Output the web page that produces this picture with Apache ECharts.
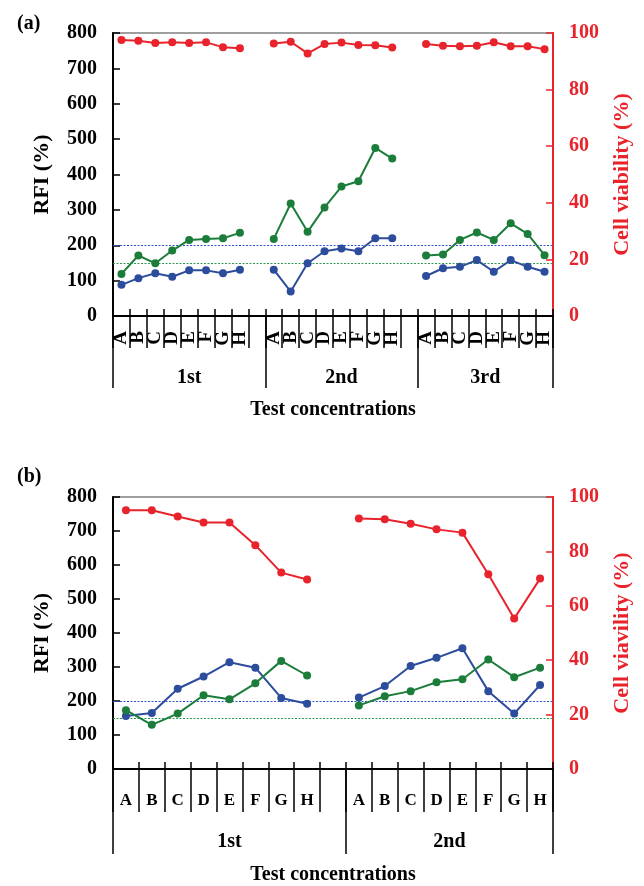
<!DOCTYPE html>
<html>
<head>
<meta charset="utf-8">
<script src="https://cdn.jsdelivr.net/npm/echarts@6/dist/echarts.min.js"></script>
<style>
html,body{margin:0;padding:0;background:#fff;}
#chart{width:644px;height:886px;}
</style>
</head>
<body>
<div id="chart"></div>
<script>
// ---------- DATA ----------
const letters = ['A','B','C','D','E','F','G','H'];
const categoriesA = [...letters, '', ...letters, '', ...letters];
const categoriesB = [...letters, '', ...letters];
const groupsA = ['1st','2nd','3rd'];
const groupsB = ['1st','2nd'];

const rfiBlueA  = [88,107,121,111,129,129,121,131, null, 131,69,149,183,191,183,220,220, null, 113,135,139,158,125,158,139,125];
const rfiGreenA = [119,171,149,185,215,218,220,235, null, 218,318,238,307,366,381,475,445, null, 171,174,215,236,215,262,232,172];
const viabA     = [97.5,97.3,96.5,96.7,96.5,96.7,95.0,94.6, null, 96.3,96.9,92.8,96.1,96.6,95.8,95.7,94.9, null, 96.1,95.5,95.3,95.5,96.7,95.3,95.3,94.3];

const rfiBlueB  = [156,165,236,272,314,298,209,192, null, 210,244,303,327,355,229,163,247];
const rfiGreenB = [173,130,163,217,205,252,318,275, null, 187,214,229,255,264,322,270,298];
const viabB     = [95.1,95.1,92.8,90.6,90.6,82.3,72.2,69.7, null, 92.1,91.8,90.2,88.1,86.9,71.6,55.3,70.0];

const thresholdBlue = 200;
const thresholdGreen = 150;

const rfiTicks = [0, 800, 100];   // min, max, interval
const viabTicks = [0, 100, 20];

// ---------- STYLE ----------
const FONT = "'Liberation Serif','Times New Roman',serif";
const RED = '#e8232b', GREEN = '#1c7d3b', BLUE = '#2c4c9c';

function groupInfo(cats) {
  const bounds = [0];
  cats.forEach((c, i) => { if (c === '') bounds.push(i + 1); });
  bounds.push(cats.length);
  const centers = [];
  for (let i = 0; i < bounds.length - 1; i++) centers.push((bounds[i] + bounds[i + 1]) / 2);
  return { bounds, centers };
}

function panel(g, cats, groups, blue, green, viab, cfg) {
  const gi = groupInfo(cats);
  const xAxes = [
    { // main category axis with letters
      type: 'category', gridIndex: g, position: 'bottom', offset: 0, data: cats, boundaryGap: true,
      axisLine: { show: true, lineStyle: { color: '#000', width: 2 } },
      axisTick: { show: true, interval: 0, length: cfg.tickLen, lineStyle: { color: '#000', width: 1.5 } },
      axisLabel: { interval: 0, rotate: cfg.rotate, margin: cfg.letterMargin, color: '#000',
        fontFamily: FONT, fontWeight: 'bold', fontSize: cfg.letterSize },
      splitLine: { show: false }, z: 3
    },
    { // inside ticks crossing the axis
      type: 'category', gridIndex: g, position: 'bottom', offset: 0, data: cats, boundaryGap: true,
      axisLine: { show: false },
      axisTick: { show: true, inside: true, interval: 0, length: 7, lineStyle: { color: '#000', width: 1.5 } },
      axisLabel: { show: false }, splitLine: { show: false }
    },
    { // group axis
      type: 'value', gridIndex: g, position: 'bottom', offset: 0, min: 0, max: cats.length,
      axisLine: { show: false },
      axisTick: { show: true, customValues: gi.bounds, length: cfg.groupTickLen, lineStyle: { color: '#000', width: 1.5 } },
      axisLabel: { show: true, customValues: gi.centers, margin: cfg.groupMargin, color: '#000',
        fontFamily: FONT, fontWeight: 'bold', fontSize: 20,
        formatter: v => groups[gi.centers.indexOf(v)] || '' },
      splitLine: { show: false },
      name: 'Test concentrations', nameLocation: 'middle', nameGap: cfg.nameGap,
      nameTextStyle: { fontFamily: FONT, fontWeight: 'bold', fontSize: 20, color: '#000' }
    }
  ];
  const yAxes = [
    {
      type: 'value', gridIndex: g, min: rfiTicks[0], max: rfiTicks[1], interval: rfiTicks[2], position: 'left',
      axisLine: { show: true, lineStyle: { color: '#000', width: 2 } },
      axisTick: { show: true, inside: true, length: 7, lineStyle: { color: '#000', width: 1.5 } },
      axisLabel: { margin: 16, color: '#000', fontFamily: FONT, fontWeight: 'bold', fontSize: 20 },
      splitLine: { show: false },
      name: 'RFI (%)', nameLocation: 'middle', nameGap: 60, nameRotate: 90,
      nameTextStyle: { fontFamily: FONT, fontWeight: 'bold', fontSize: 22, color: '#000' }
    },
    {
      type: 'value', gridIndex: g, min: viabTicks[0], max: viabTicks[1], interval: viabTicks[2], position: 'right',
      axisLine: { show: true, lineStyle: { color: RED, width: 2 } },
      axisTick: { show: true, inside: true, length: 7, lineStyle: { color: RED, width: 1.5 } },
      axisLabel: { margin: 16, color: RED, fontFamily: FONT, fontWeight: 'bold', fontSize: 20 },
      splitLine: { show: false },
      name: cfg.rightName, nameLocation: 'middle', nameGap: 58, nameRotate: 90,
      nameTextStyle: { fontFamily: FONT, fontWeight: 'bold', fontSize: 22, color: RED }
    }
  ];
  const lineStyleFor = c => ({ color: c, width: 2 });
  const base = { type: 'line', symbol: 'circle', symbolSize: 8, connectNulls: false, z: 5 };
  const mk = (v, c) => ({
    silent: true, symbol: 'none', label: { show: false },
    lineStyle: { type: [2, 1.5], color: c, width: 1, opacity: 1 }, data: [{ yAxis: v }]
  });
  const series = [
    Object.assign({}, base, { name: 'blue' + g, xAxisIndex: 3 * g, yAxisIndex: 2 * g, data: blue,
      itemStyle: { color: BLUE }, lineStyle: lineStyleFor(BLUE), markLine: mk(thresholdBlue, '#2f55c8') }),
    Object.assign({}, base, { name: 'green' + g, xAxisIndex: 3 * g, yAxisIndex: 2 * g, data: green,
      itemStyle: { color: GREEN }, lineStyle: lineStyleFor(GREEN), markLine: mk(thresholdGreen, '#2e9a50') }),
    Object.assign({}, base, { name: 'red' + g, xAxisIndex: 3 * g, yAxisIndex: 2 * g + 1, data: viab,
      itemStyle: { color: RED }, lineStyle: lineStyleFor(RED) })
  ];
  return { xAxes, yAxes, series };
}

const pA = panel(0, categoriesA, groupsA, rfiBlueA, rfiGreenA, viabA,
  { rotate: 90, letterSize: 19, letterMargin: 15, tickLen: 32, groupTickLen: 72, groupMargin: 52, nameGap: 84,
    rightName: 'Cell viability (%)' });
const pB = panel(1, categoriesB, groupsB, rfiBlueB, rfiGreenB, viabB,
  { rotate: 0, letterSize: 17, letterMargin: 23, tickLen: 43, groupTickLen: 85, groupMargin: 63, nameGap: 96,
    rightName: 'Cell viavility (%)' });

const chart = echarts.init(document.getElementById('chart'), null, { renderer: 'canvas' });
chart.setOption({
  animation: false,
  backgroundColor: '#fff',
  title: [
    { text: '(a)', left: 12, top: 9, textStyle: { fontFamily: FONT, fontWeight: 'bold', fontSize: 20, color: '#000' } },
    { text: '(b)', left: 12, top: 462, textStyle: { fontFamily: FONT, fontWeight: 'bold', fontSize: 20, color: '#000' } }
  ],
  grid: [
    { left: 113, right: 91, top: 33, height: 283, show: true, borderColor: '#808080', borderWidth: 1.5, backgroundColor: 'transparent' },
    { left: 113, right: 91, top: 497, height: 272, show: true, borderColor: '#808080', borderWidth: 1.5, backgroundColor: 'transparent' }
  ],
  xAxis: [...pA.xAxes, ...pB.xAxes],
  yAxis: [...pA.yAxes, ...pB.yAxes],
  series: [...pA.series, ...pB.series]
});
</script>
</body>
</html>
